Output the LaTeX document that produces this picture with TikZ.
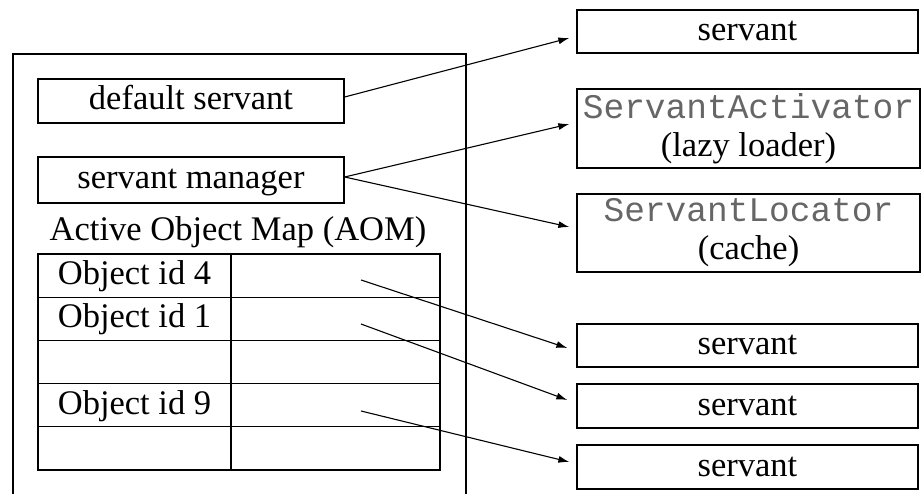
\documentclass[tikz,border=0pt]{standalone}
\usepackage{fontspec}
\setmainfont{Liberation Serif}
\setmonofont{Liberation Mono}
\usetikzlibrary{arrows.meta,calc}
\begin{document}
\begin{tikzpicture}[x=1pt,y=-1pt,
  every node/.style={font=\fontsize{34.5}{38}\selectfont},
  frame/.style={draw,line width=1.3pt,inner sep=0pt},
  box/.style={frame,text height=22pt,text depth=4pt},
  cell/.style={box,minimum height=43.2pt},
  keycell/.style={cell,minimum width=193pt},
  valcell/.style={cell,minimum width=209pt},
  rbox/.style={box,minimum width=341pt},
  mbox/.style={frame,minimum width=343pt,align=center},
  conn/.style={line width=1.1pt,-{Latex[length=11pt,width=7pt]}}
]
\useasboundingbox (0,0) rectangle (921,494);
\clip (0,0) rectangle (921,494);
% outer container
\node[frame,minimum width=453pt,minimum height=460pt] (outer) at (239.5,284) {};
\node[box,minimum width=306pt,minimum height=44pt] (dflt) at (191,101) {default servant};
\node[box,minimum width=306pt,minimum height=46pt] (mgr) at (191,180) {servant manager};
\node[box,draw=none] (aom) at (238,232) {Active Object Map (AOM)};
% table
\node[keycell] (k1) at (134.5,275.6) {Object id 4};
\node[keycell] (k2) at (134.5,318.8) {Object id 1};
\node[keycell] (k3) at (134.5,362.0) {};
\node[keycell] (k4) at (134.5,405.2) {Object id 9};
\node[keycell] (k5) at (134.5,448.4) {};
\node[valcell] (v1) at (335.5,275.6) {};
\node[valcell] (v2) at (335.5,318.8) {};
\node[valcell] (v3) at (335.5,362.0) {};
\node[valcell] (v4) at (335.5,405.2) {};
\node[valcell] (v5) at (335.5,448.4) {};
% right side
\node[rbox,minimum height=43pt] (s0) at (747.5,31.5) {servant};
\node[mbox,minimum height=79pt] (sa) at (748.5,128.5) {{\ttfamily\color{black!60}ServantActivator}\\(lazy loader)};
\node[mbox,minimum height=78pt] (sl) at (748.5,233) {{\ttfamily\color{black!60}ServantLocator}\\(cache)};
\node[rbox,minimum height=43pt] (s1) at (747.5,345.5) {servant};
\node[rbox,minimum height=44pt] (s2) at (747.5,406) {servant};
\node[rbox,minimum height=44pt] (s3) at (747.5,467) {servant};
% connector ends
\coordinate (e0) at ($(s0.west)+(-7,6.5)$);
\coordinate (ea) at ($(sa.west)+(-7,-4.5)$);
\coordinate (el) at ($(sl.west)+(-7,-6)$);
\coordinate (e1) at ($(s1.west)+(-9,2.5)$);
\coordinate (e2) at ($(s2.west)+(-9,-6)$);
\coordinate (e3) at ($(s3.west)+(-7,-5)$);
\coordinate (p1) at (361,280);
\coordinate (p2) at (361,324);
\coordinate (p3) at (361,411);
\draw[conn] ($(dflt.east)+(0,-4)$) -- (e0);
\draw[conn] ($(mgr.east)+(0,-3)$) -- (ea);
\draw[conn] ($(mgr.east)+(0,-3)$) -- (el);
\draw[conn] (p1) -- (e1);
\draw[conn] (p2) -- (e2);
\draw[conn] (p3) -- (e3);
\end{tikzpicture}
\end{document}
